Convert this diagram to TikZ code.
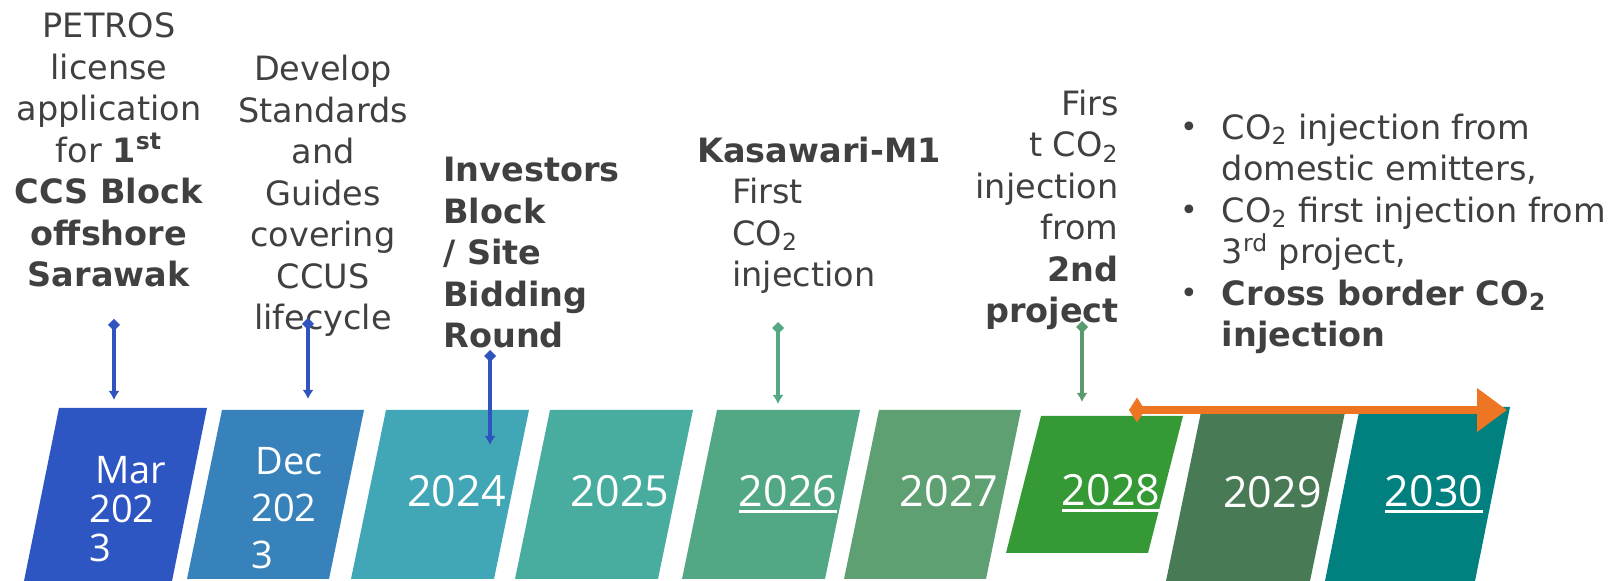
\documentclass[tikz,border=0pt]{standalone}
\usepackage{fontspec}
\setmainfont{DejaVu Sans}
\newfontfamily\yearfont{Open Sans}
\usetikzlibrary{positioning, arrows.meta}

\definecolor{txtgray}{HTML}{404040}
\definecolor{mar23}{HTML}{2E56C3}
\definecolor{dec23}{HTML}{3782BA}
\definecolor{y24}{HTML}{41A6B6}
\definecolor{y25}{HTML}{48AC9E}
\definecolor{y26}{HTML}{52A884}
\definecolor{y27}{HTML}{5FA072}
\definecolor{y28}{HTML}{359A35}
\definecolor{y29}{HTML}{487A55}
\definecolor{y30}{HTML}{00807F}
\definecolor{bluemark}{HTML}{2F54C0}
\definecolor{greenmark}{HTML}{55A884}
\definecolor{darkmark}{HTML}{5A9A6E}
\definecolor{orangebar}{HTML}{EE7623}

% underlined year, thicker rule than \underline
\newcommand\yearul[1]{\setbox0\hbox{#1}\rlap{\rule[-3pt]{\wd0}{1.3pt}}\box0}
% bullet hanging left of the item
\newcommand\itemdot{\llap{\raisebox{0.8pt}{\fontsize{15}{15}\selectfont•}\hspace{12pt}}}

\tikzset{
	note/.style={inner sep=0pt, text=txtgray, font=\fontsize{16.75}{20.75}\selectfont},
	yeartext/.style={inner sep=0pt, text=white, anchor=base, font=\yearfont\fontsize{21.5}{25}\selectfont},
	monthtext/.style={inner sep=0pt, text=white, align=left, anchor=base west, font=\yearfont\fontsize{19}{19.5}\selectfont},
	marker/.style={line width=1.9pt, {Diamond[length=6pt,width=6pt]}-{Latex[length=4.5pt,width=5.5pt]}},
}

\begin{document}
\begin{tikzpicture}[x=0.5pt, y=-0.5pt]
	\useasboundingbox (0,0) rectangle (1616,581);
	% slanted year blocks
	\foreach \c/\x/\t/\b/\w in {mar23/59/408/581/148, dec23/222/410/579/142, y24/386/410/579/143, y25/550/410/579/143, y26/717/410/579/143, y27/879/410/579/142, y28/1041/416/553/142, y29/1201/412/581/144, y30/1360/407/581/150}
		\fill[\c] (\x,\t) -- ++(\w,0) -- ++(-35,{\b-\t}) -- ++(-\w,0) -- cycle;

	\node[monthtext] (mar) at (89,562) {\hspace*{3pt}Mar\\202\\3};
	\node[monthtext] (dec) at (251,569) {\hspace*{2pt}Dec\\[4pt]202\\[4pt]3};
	\node[yeartext] (y2024) at (456.5,507) {2024};
	\node[yeartext] (y2025) at (620,507) {2025};
	\node[yeartext] (y2026) at (788,507) {\yearul{2026}};
	\node[yeartext] (y2027) at (949,507) {2027};
	\node[yeartext] (y2028) at (1111,506) {\yearul{2028}};
	\node[yeartext] (y2029) at (1272.5,508) {2029};
	\node[yeartext] (y2030) at (1434,507) {\yearul{2030}};

	% milestones
	\node[note, align=center, anchor=base] (petros) at (109,287) {PETROS\\license\\application\\for \textbf{1\textsuperscript{st}}\\\textbf{CCS Block}\\\textbf{offshore}\\\textbf{Sarawak}};
	\node[note, align=center, anchor=base] (develop) at (323,330) {Develop\\Standards\\and\\Guides\\covering\\CCUS\\lifecycle};
	\node[note, align=left, anchor=base west, font=\bfseries\fontsize{16.75}{20.75}\selectfont] (investors) at (443,348) {Investors\\Block\\/ Site\\Bidding\\Round};
	\node[note, align=left, anchor=base west] (kasawari) at (697,287) {\textbf{Kasawari-M1}\\\hspace*{17.5pt}First\\\hspace*{17.5pt}CO\textsubscript{2}\\\hspace*{17.5pt}injection};
	\node[note, align=right, anchor=base east] (second) at (1119,323) {Firs\\t CO\textsubscript{2}\\injection\\from\\\textbf{2nd}\\\textbf{project}};
	\node[note, align=left, anchor=base west] (beyond) at (1221.5,347) {\itemdot CO\textsubscript{2} injection from\\domestic emitters,\\\itemdot CO\textsubscript{2} first injection from\\3\textsuperscript{rd} project,\\\itemdot\textbf{Cross border CO\textsubscript{2}}\\\textbf{injection}};

	% markers down to the blocks
	\coordinate (m1top) at (114,319);  \coordinate (m1bot) at (114,400);
	\coordinate (m2top) at (308,318);  \coordinate (m2bot) at (308,399);
	\coordinate (m3top) at (490,350);  \coordinate (m3bot) at (490,445);
	\coordinate (m4top) at (778,322);  \coordinate (m4bot) at (778,404);
	\coordinate (m5top) at (1082,321); \coordinate (m5bot) at (1082,402);
	\foreach \i/\c in {1/bluemark, 2/bluemark, 3/bluemark, 4/greenmark, 5/darkmark}
		\draw[marker, \c] (m\i top) -- (m\i bot);

	\coordinate (span-start) at (1129,410);
	\coordinate (span-end) at (1507,410);
	\draw[orangebar, line width=4pt, {Diamond[length=8pt,width=12.5pt]}-{Triangle[length=15pt,width=21pt]}] (span-start) -- (span-end);
\end{tikzpicture}
\end{document}
